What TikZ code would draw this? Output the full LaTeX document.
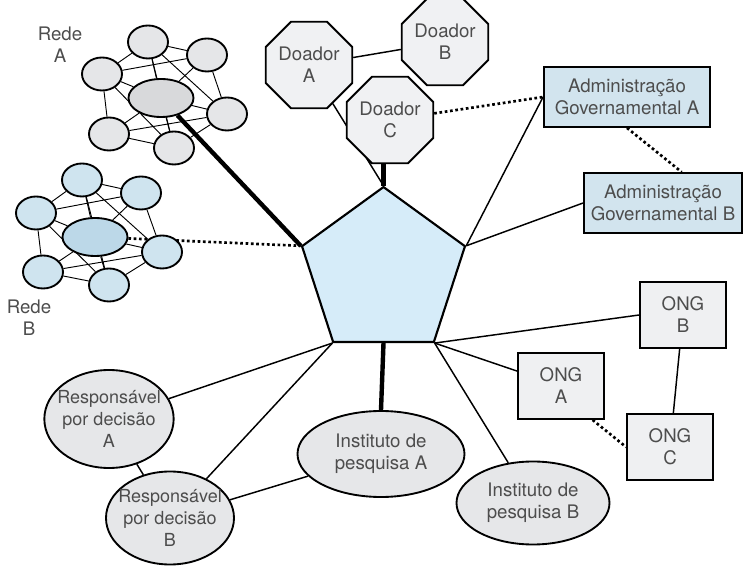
\documentclass[tikz,border=0pt]{standalone}
\usepackage{fontspec}
\setmainfont{TeX Gyre Heros}
\usetikzlibrary{shapes.geometric,backgrounds}

\definecolor{txtgray}{RGB}{77,77,77}
\definecolor{pentfill}{RGB}{214,236,249}
\definecolor{octfill}{RGB}{240,241,243}
\definecolor{govfill}{RGB}{210,228,238}
\definecolor{ongfill}{RGB}{239,240,242}
\definecolor{ellfill}{RGB}{230,231,233}
\definecolor{satgray}{RGB}{229,230,232}
\definecolor{hubgray}{RGB}{216,217,219}
\definecolor{satblue}{RGB}{207,228,239}
\definecolor{hubblue}{RGB}{188,216,232}

\begin{document}
\begin{tikzpicture}[x=0.75pt, y=-0.75pt,
  every node/.style={align=center, text=txtgray, font=\fontsize{14pt}{16.5pt}\selectfont},
  donor/.style={draw, line width=1.4pt, regular polygon, regular polygon sides=8, minimum size=58pt, inner sep=0pt, fill=octfill},
  govbox/.style={draw, line width=1.4pt, minimum height=45pt, fill=govfill},
  ongbox/.style={draw, line width=1.4pt, minimum width=64.5pt, minimum height=49.5pt, fill=ongfill},
  actor/.style={draw, line width=1.4pt, ellipse, inner sep=0pt, fill=ellfill},
  sat/.style={draw, line width=1.4pt, ellipse, minimum width=30pt, minimum height=24.75pt, inner sep=0pt},
  hub/.style={sat, minimum width=48.75pt, minimum height=28.5pt},
  link/.style={line width=1.1pt},
  strong/.style={line width=3.3pt},
  weak/.style={line width=2pt, dash pattern=on 2pt off 2pt},
  mesh/.style={line width=0.7pt}]
\useasboundingbox (0,0) rectangle (743,566);

\node (pent) [draw, line width=1.6pt, regular polygon, regular polygon sides=5, minimum size=128.5pt, inner sep=0pt, fill=pentfill] at (383.5,272.7) {};

\node (doA) [donor] at (309,65) {Doador\\A};
\node (doB) [donor] at (445,42) {Doador\\B};
\node (doC) [donor] at (390,120) {Doador\\C};

\node (admA) [govbox, minimum width=124.5pt] at (627,97) {Administração\\Governamental A};
\node (admB) [govbox, minimum width=118.5pt] at (663,203) {Administração\\Governamental B};

\node (ongB) [ongbox] at (683,315) {ONG\\B};
\node (ongA) [ongbox] at (561,386) {ONG\\A};
\node (ongC) [ongbox] at (670,447) {ONG\\C};

\node (respA) [actor, inner xsep=-9pt, font=\fontsize{13.5pt}{16.5pt}\selectfont, minimum width=97pt, minimum height=73.5pt] at (109,419) {Responsável\\por decisão\\A};
\node (respB) [actor, inner xsep=-9pt, font=\fontsize{13.5pt}{16.5pt}\selectfont, minimum width=96pt, minimum height=69.75pt] at (170,518) {Responsável\\por decisão\\B};
\node (instA) [actor, minimum width=125.25pt, minimum height=64.5pt] at (381,454) {Instituto de\\pesquisa A};
\node (instB) [actor, minimum width=114.75pt, minimum height=62.25pt] at (533,503) {Instituto de\\pesquisa B};

\node (redeA) at (60,45) {Rede\\A};
\node (ra0) [hub, fill=hubgray] at (161,98) {};
\node (ra1) [sat, fill=satgray] at (148,42) {};
\node (ra2) [sat, fill=satgray] at (207,55) {};
\node (ra3) [sat, fill=satgray] at (227,114) {};
\node (ra4) [sat, fill=satgray] at (174,148) {};
\node (ra5) [sat, fill=satgray] at (109,134) {};
\node (ra6) [sat, fill=satgray] at (102,74) {};

\node (redeB) at (29,318) {Rede\\B};
\node (rb0) [hub, fill=hubblue] at (95,237) {};
\node (rb1) [sat, fill=satblue] at (82,180) {};
\node (rb2) [sat, fill=satblue] at (141,193) {};
\node (rb3) [sat, fill=satblue] at (162,252) {};
\node (rb4) [sat, fill=satblue] at (109,285) {};
\node (rb5) [sat, fill=satblue] at (43,272) {};
\node (rb6) [sat, fill=satblue] at (36,213) {};

\begin{scope}[on background layer]
\draw[mesh] (ra1) -- (ra2) -- (ra3) -- (ra4) -- (ra5) -- (ra6) -- (ra1);
\draw[mesh] (ra0) -- (ra1) (ra0) -- (ra2) (ra0) -- (ra3) (ra0) -- (ra4) (ra0) -- (ra5) (ra0) -- (ra6);
\draw[mesh] (ra6) -- (ra2) (ra1) -- (ra3) (ra5) -- (ra3) (ra6) -- (ra4) (ra1) -- (ra4);
\draw[mesh] (rb1) -- (rb2) -- (rb3) -- (rb4) -- (rb5) -- (rb6) -- (rb1);
\draw[mesh] (rb0) -- (rb1) (rb0) -- (rb2) (rb0) -- (rb3) (rb0) -- (rb4) (rb0) -- (rb5) (rb0) -- (rb6);
\draw[mesh] (rb6) -- (rb2) (rb1) -- (rb3) (rb5) -- (rb3) (rb6) -- (rb4) (rb1) -- (rb4);

\draw[strong] (ra0) -- (pent.corner 2);
\draw[weak] (rb0) -- (pent.corner 2);
\draw[strong] (pent.corner 1) -- (pent.corner 1 |- doC.south);
\draw[link] (doA) -- (pent.corner 1);
\draw[link] (doA) -- (doB);
\draw[weak] (doC) -- (admA.west);
\draw[link] (pent.corner 5) -- (admA.west);
\draw[link] (pent.corner 5) -- (admB.west);
\draw[weak] (admA.south) -- ([xshift=14pt]admB.north);
\draw[link] (pent.corner 4) -- (ongB.west);
\draw[link] (pent.corner 4) -- (ongA);
\draw[link] (pent.corner 4) -- (instB);
\draw[link] (ongB) -- (ongC);
\draw[weak] (ongA.-47) -- (ongC.west);
\draw[strong] (pent.side 3) -- (instA.north);
\draw[link] (pent.corner 3) -- (respA);
\draw[link] (pent.corner 3) -- (respB);
\draw[link] (respA) -- (respB);
\draw[link] (respB) -- (instA);
\end{scope}
\end{tikzpicture}
\end{document}
